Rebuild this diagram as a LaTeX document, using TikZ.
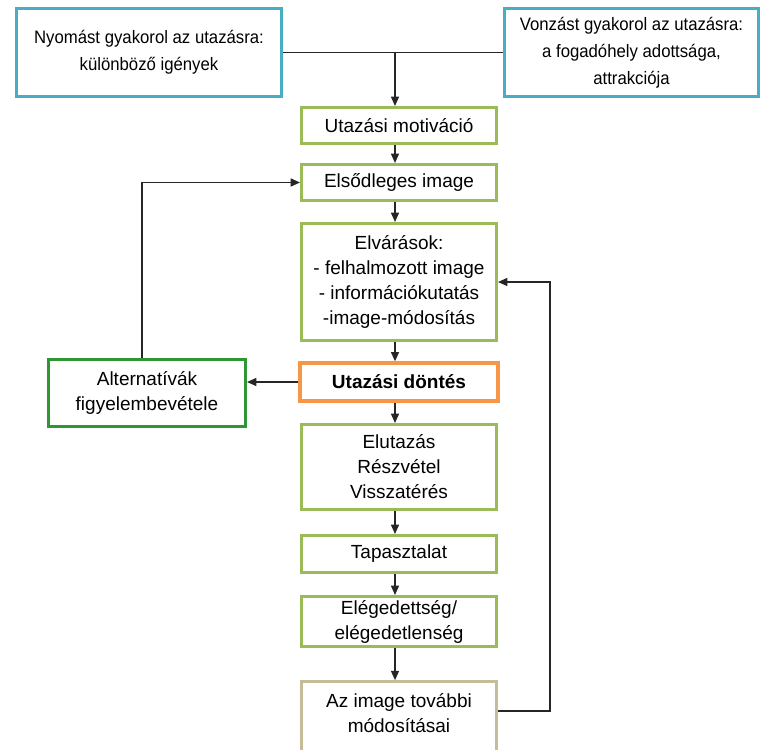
\documentclass[tikz,border=0pt]{standalone}
\usepackage{fontspec}
\setmainfont{Liberation Sans}
\newfontfamily\narrowfont[FakeStretch=0.93]{Liberation Sans}
\usetikzlibrary{arrows.meta,calc}
\definecolor{pushblue}{HTML}{4BACC6}
\definecolor{stepgreen}{HTML}{9BBB59}
\definecolor{decorange}{HTML}{F79646}
\definecolor{altgreen}{HTML}{2E9632}
\definecolor{feedtan}{HTML}{C4BD97}
\tikzset{
  box/.style={draw, line width=2.25pt, fill=white, align=center, inner sep=2pt,
    font=\fontsize{14.25pt}{18.75pt}\selectfont},
  stepbox/.style={box, draw=stepgreen, minimum width=146.25pt},
  topbox/.style={box, draw=pushblue, font=\narrowfont\fontsize{13.5pt}{20.25pt}\selectfont},
  conn/.style={line width=1.1pt, draw=black!85},
  arr/.style={conn, -{Triangle[length=7pt,width=6pt]}}
}
\begin{document}
\begin{tikzpicture}[x=0.75pt,y=-0.75pt]
\useasboundingbox (0,0) rectangle (762,749);

% driving factors
\node[topbox, minimum width=198.75pt, minimum height=66pt] (push) at (149,52.5)
  {Nyomást gyakorol az utazásra:\\különböző igények};
\node[topbox, minimum width=190.5pt, minimum height=65.25pt] (pull) at (631.5,52.5)
  {Vonzást gyakorol az utazásra:\\a fogadóhely adottsága,\\attrakciója};

% main chain
\node[stepbox, minimum height=27pt] (motiv) at (399,125.5) {Utazási motiváció};
\node[stepbox, minimum height=27pt] (primary) at (399,182.5) {Elsődleges image};
\node[stepbox, minimum height=87.75pt] (expect) at (399,282)
  {Elvárások:\\- felhalmozott image\\- információkutatás\\-image-módosítás};
\node[box, draw=decorange, line width=3pt, minimum width=148.5pt, minimum height=28pt,
  font=\bfseries\fontsize{14.25pt}{18.75pt}\selectfont] (decision) at (399,382) {Utazási döntés};
\node[box, draw=altgreen, minimum width=147.75pt, minimum height=50.25pt] (alt) at (147,393)
  {Alternatívák\\figyelembevétele};
\node[stepbox, minimum height=63.75pt] (trip) at (399,467) {Elutazás\\Részvétel\\Visszatérés};
\node[stepbox, minimum height=27.75pt] (exper) at (399,554) {Tapasztalat};
\node[stepbox, minimum height=37.5pt] (satis) at (399,621.5) {Elégedettség/\\elégedetlenség};
\node[stepbox, draw=feedtan, minimum height=56pt,
  label={[align=center, font=\fontsize{14.25pt}{18.75pt}\selectfont, yshift=4.5pt]center:Az image további\\módosításai}]
  (further) at (399,719) {};

% connectors
\coordinate (ax) at (395,0);
\coordinate (fb) at (550,711);
\draw[conn] (push.east) -- (pull.west |- push.east);
\draw[arr] (ax |- push.east) -- (motiv.north -| ax);
\draw[arr] (motiv.south -| ax) -- (primary.north -| ax);
\draw[arr] (primary.south -| ax) -- (expect.north -| ax);
\draw[arr] (expect.south -| ax) -- (decision.north -| ax);
\draw[arr] (decision.south -| ax) -- (trip.north -| ax);
\draw[arr] (trip.south -| ax) -- (exper.north -| ax);
\draw[arr] (exper.south -| ax) -- (satis.north -| ax);
\draw[arr] (satis.south -| ax) -- (further.north -| ax);
\draw[arr] (decision.west) -- (alt.east |- decision.west);
\draw[arr] ($(alt.north)+(-5,0)$) |- (primary.west);
\draw[arr] (further.east |- fb) -- (fb) |- (expect.east);
\end{tikzpicture}
\end{document}
